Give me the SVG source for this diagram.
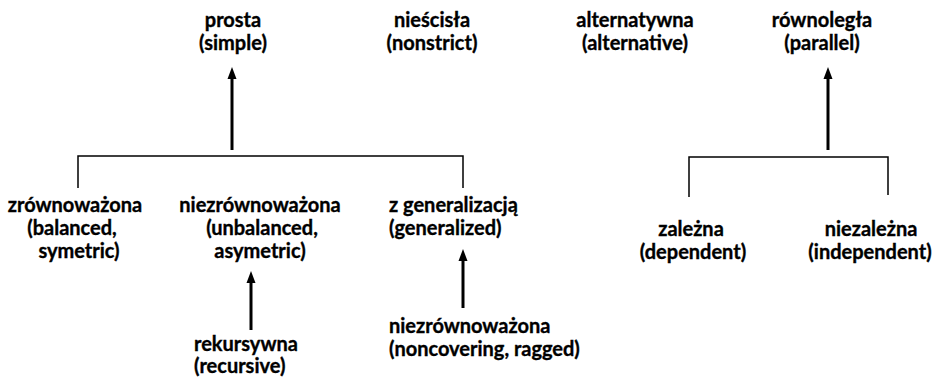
<svg xmlns="http://www.w3.org/2000/svg" width="937" height="383" viewBox="0 0 937 383">
  <defs>
    <style>
      text { font-family: Lato, "Open Sans", "Liberation Sans", sans-serif; font-weight: bold; font-size: 20px; fill: #000; stroke: #000; stroke-width: 0.35; }
      .c { text-anchor: middle; }
      .l { text-anchor: start; }
      .bracket { fill: none; stroke: #000; stroke-width: 1.5; }
      .shaft { fill: none; stroke: #000; stroke-width: 3; }
      .head { fill: #000; }
    </style>
  </defs>
  <rect width="937" height="383" fill="#fff"/>

  <!-- connectors: brackets and arrows -->
  <g id="connectors">
    <path class="bracket" d="M78 188 V156 H463 V188"/>
    <path class="bracket" d="M689 197 V157 H888 V195"/>
    <line class="shaft" x1="232" y1="150" x2="232" y2="79"/>
    <polygon class="head" points="232,67 227.5,79 236.5,79"/>
    <line class="shaft" x1="828" y1="150" x2="828" y2="79"/>
    <polygon class="head" points="828,67 823.5,79 832.5,79"/>
    <line class="shaft" x1="251" y1="330" x2="251" y2="283"/>
    <polygon class="head" points="251,271 246.5,283 255.5,283"/>
    <line class="shaft" x1="463" y1="308" x2="463" y2="261"/>
    <polygon class="head" points="463,249 458.5,261 467.5,261"/>
  </g>

  <!-- top-level kinds -->
  <g id="prosta">
    <text class="c" x="233" y="27">prosta</text>
    <text class="c" x="233" y="50">(simple)</text>
  </g>
  <g id="niescisla">
    <text class="c" x="432" y="27">nieścisła</text>
    <text class="c" x="432" y="50">(nonstrict)</text>
  </g>
  <g id="alternatywna">
    <text class="c" x="635" y="27">alternatywna</text>
    <text class="c" x="635" y="50">(alternative)</text>
  </g>
  <g id="rownolegla">
    <text class="c" x="822" y="27">równoległa</text>
    <text class="c" x="822" y="50">(parallel)</text>
  </g>

  <!-- subtypes of simple -->
  <g id="zrownowazona">
    <text class="c" x="75" y="212">zrównoważona</text>
    <text class="c" x="72" y="235">(balanced,</text>
    <text class="c" x="79" y="258">symetric)</text>
  </g>
  <g id="niezrownowazona">
    <text class="c" x="260" y="212">niezrównoważona</text>
    <text class="c" x="262" y="235">(unbalanced,</text>
    <text class="c" x="260" y="258">asymetric)</text>
  </g>
  <g id="z-generalizacja">
    <text class="l" x="389" y="212">z generalizacją</text>
    <text class="l" x="389" y="235">(generalized)</text>
  </g>
  <g id="rekursywna">
    <text class="l" x="194" y="351">rekursywna</text>
    <text class="l" x="194" y="373">(recursive)</text>
  </g>
  <g id="niezrownowazona-noncovering">
    <text class="l" x="389" y="333">niezrównoważona</text>
    <text class="l" x="389" y="356">(noncovering, ragged)</text>
  </g>

  <!-- subtypes of parallel -->
  <g id="zalezna">
    <text class="c" x="691" y="236">zależna</text>
    <text class="c" x="693" y="259">(dependent)</text>
  </g>
  <g id="niezalezna">
    <text class="c" x="871" y="236">niezależna</text>
    <text class="c" x="870" y="259">(independent)</text>
  </g>
</svg>
